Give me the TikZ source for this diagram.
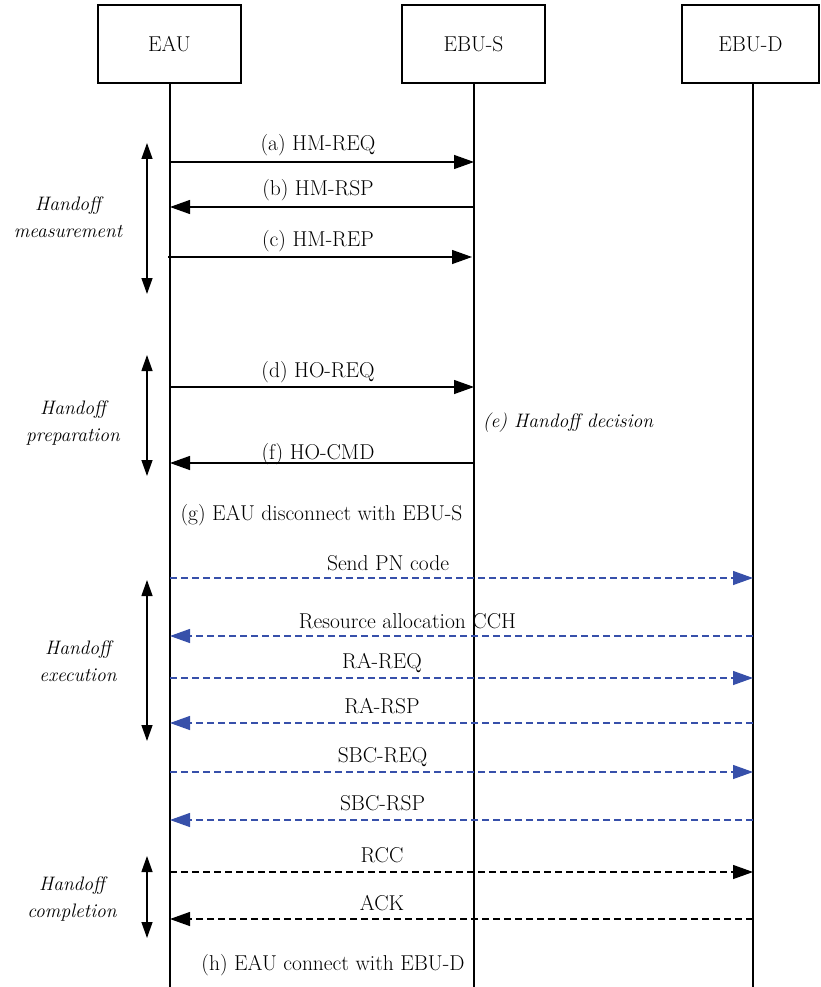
\documentclass[tikz,border=0pt]{standalone}
\usepackage{fontspec}
\usetikzlibrary{arrows.meta}
\definecolor{msgblue}{RGB}{55,80,170}
\begin{document}
\begin{tikzpicture}[x=1pt,y=-1pt,
  every node/.style={font=\fontsize{21.5}{26}\selectfont},
  actor/.style={draw,line width=1.2pt,minimum width=143pt,minimum height=78pt,inner sep=0pt},
  life/.style={line width=1.1pt},
  msg/.style={line width=1.3pt,-{Triangle[length=20pt,width=14pt]}},
  dmsg/.style={msg,dash pattern=on 7pt off 4pt},
  bmsg/.style={dmsg,draw=msgblue,-{Triangle[length=20pt,width=14pt,fill=msgblue]}},
  phase/.style={line width=1.3pt,{Triangle[length=16pt,width=11pt]}-{Triangle[length=16pt,width=11pt]}},
  lbl/.style={inner sep=0pt,anchor=base},
  plbl/.style={font=\fontsize{19.5}{27}\selectfont\itshape,align=center,inner sep=0pt}
]
\useasboundingbox (0,0) rectangle (820,987);
\clip (0,0) rectangle (820,987);
% actors
\node[actor] (eau) at (169.5,44) {EAU};
\node[actor] (ebus) at (473.5,44) {EBU-S};
\node[actor,minimum width=137pt] (ebud) at (750.5,44) {EBU-D};
\coordinate (eauB) at (170,987);
\coordinate (ebusB) at (474,987);
\coordinate (ebudB) at (753,987);
\draw[life] (eau.south -| eauB) -- (eauB);
\draw[life] (ebus.south -| ebusB) -- (ebusB);
\draw[life] (ebud.south -| ebudB) -- (ebudB);
% handoff measurement
\coordinate (a1) at (170,162); \coordinate (a2) at (474,162);
\coordinate (b1) at (170,207); \coordinate (b2) at (474,207);
\coordinate (c1) at (168,257); \coordinate (c2) at (472,257);
\draw[msg] (a1) -- (a2);
\draw[msg] (b2) -- (b1);
\draw[msg] (c1) -- (c2);
\node[lbl] (la) at (318,151) {(a) HM-REQ};
\node[lbl] (lb) at (318,195) {(b) HM-RSP};
\node[lbl] (lc) at (318,246) {(c) HM-REP};
\coordinate (p1t) at (147,143); \coordinate (p1b) at (147,294);
\draw[phase] (p1t) -- (p1b);
\node[plbl] (ph1) at (68,217) {Handoff\\measurement};
% handoff preparation
\coordinate (d1) at (170,387); \coordinate (d2) at (474,387);
\coordinate (f1) at (170,463); \coordinate (f2) at (474,463);
\draw[msg] (d1) -- (d2);
\draw[msg] (f2) -- (f1);
\node[lbl] (ld) at (318,377) {(d) HO-REQ};
\node[lbl] (lf) at (318,459) {(f) HO-CMD};
\node[lbl,font=\fontsize{19.5}{25}\selectfont\itshape] (le) at (568,427) {(e) Handoff decision};
\coordinate (p2t) at (147,355); \coordinate (p2b) at (147,476);
\draw[phase] (p2t) -- (p2b);
\node[plbl] (ph2) at (73,423) {Handoff\\preparation};
\node[lbl] (lg) at (321.5,520) {(g) EAU disconnect with EBU-S};
% handoff execution
\coordinate (s1) at (170,578); \coordinate (s2) at (753,578);
\coordinate (r1) at (170,636); \coordinate (r2) at (753,636);
\coordinate (q1) at (170,678); \coordinate (q2) at (753,678);
\coordinate (t1) at (170,723); \coordinate (t2) at (753,723);
\coordinate (u1) at (170,772); \coordinate (u2) at (753,772);
\coordinate (v1) at (170,820); \coordinate (v2) at (753,820);
\draw[bmsg] (s1) -- (s2);
\draw[bmsg] (r2) -- (r1);
\draw[bmsg] (q1) -- (q2);
\draw[bmsg] (t2) -- (t1);
\draw[bmsg] (u1) -- (u2);
\draw[bmsg] (v2) -- (v1);
\node[lbl] (ls) at (388,570) {Send PN code};
\node[lbl] (lr) at (407.5,628) {Resource allocation CCH};
\node[lbl] (lq) at (382,668) {RA-REQ};
\node[lbl] (lt) at (382,713) {RA-RSP};
\node[lbl] (lu) at (382.5,762) {SBC-REQ};
\node[lbl] (lv) at (382.5,810) {SBC-RSP};
\coordinate (p3t) at (147,580); \coordinate (p3b) at (147,741);
\draw[phase] (p3t) -- (p3b);
\node[plbl] (ph3) at (78,661) {Handoff\\execution};
% handoff completion
\coordinate (w1) at (170,872); \coordinate (w2) at (753,872);
\coordinate (k1) at (170,919); \coordinate (k2) at (753,919);
\draw[dmsg] (w1) -- (w2);
\draw[dmsg] (k2) -- (k1);
\node[lbl] (lw) at (382,862) {RCC};
\node[lbl] (lk) at (382,910) {ACK};
\coordinate (p4t) at (147,856); \coordinate (p4b) at (147,938);
\draw[phase] (p4t) -- (p4b);
\node[plbl] (ph4) at (72,899) {Handoff\\completion};
\node[lbl] (lh) at (333,970) {(h) EAU connect with EBU-D};
\end{tikzpicture}
\end{document}
